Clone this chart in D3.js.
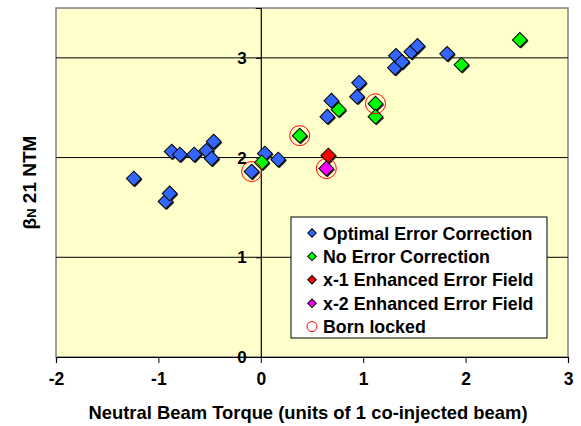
<!DOCTYPE html>
<html><head><meta charset="utf-8">
<script src="https://cdn.jsdelivr.net/npm/d3@7"></script>
<style>body{margin:0;background:#fff;} text{font-family:Arial,"Liberation Sans",sans-serif;font-weight:bold;}</style>
</head><body>
<svg id="c" width="581" height="426"></svg>
<script>
const optimalX = [-1.24,-0.93,-0.89,-0.87,-0.79,-0.65,-0.53,-0.48,-0.46,-0.09,0.04,0.17,0.65,0.69,0.94,0.96,1.31,1.32,1.38,1.47,1.53,1.82];
const optimalY = [1.79,1.56,1.64,2.06,2.03,2.03,2.07,1.99,2.16,1.86,2.04,1.98,2.41,2.57,2.61,2.75,2.90,3.02,2.96,3.06,3.12,3.04];
const noCorrX = [0.01,0.38,0.76,1.12,1.12,1.96,2.53];
const noCorrY = [1.95,2.22,2.48,2.54,2.41,2.93,3.18];
const x1X = [0.66];
const x1Y = [2.02];
const x2X = [0.64];
const x2Y = [1.89];
const bornX = [-0.09,0.38,0.64,1.12];
const bornY = [1.86,2.22,1.89,2.54];
const xTicks = [-2,-1,0,1,2,3];
const yTicks = [0,1,2,3];
const seriesNames = ["Optimal Error Correction","No Error Correction","x-1 Enhanced Error Field","x-2 Enhanced Error Field","Born locked"];
const seriesColors = ["#3366FF","#00FF00","#FF0000","#FF00FF","#FF0000"];

const svg = d3.select("#c");
const L=56, R=568, T=8, B=357;
const x = d3.scaleLinear().domain([-2,3]).range([L,R]);
const y = d3.scaleLinear().domain([0,3.5]).range([B,T]);

svg.append("rect").attr("x",L).attr("y",T).attr("width",R-L).attr("height",B-T)
  .attr("fill","#FFFFCC").attr("stroke","#808080").attr("stroke-width",1.5);

svg.append("g").selectAll("line").data(yTicks.filter(d=>d>0)).join("line")
  .attr("x1",L).attr("x2",R).attr("y1",d=>y(d)).attr("y2",d=>y(d))
  .attr("stroke","#000").attr("stroke-width",1);

const xa = svg.append("g").attr("transform",`translate(0,${B})`)
  .call(d3.axisBottom(x).tickValues(xTicks).tickSize(6).tickPadding(10).tickFormat(d=>String(d)));
xa.select(".domain").attr("stroke","#000").attr("stroke-width",1.2);
xa.selectAll(".tick line").attr("stroke","#000");
xa.selectAll("text").attr("font-size",17.5).attr("font-family","Arial, Liberation Sans").attr("font-weight","bold").attr("fill","#000");

const ya = svg.append("g").attr("transform",`translate(${x(0)},0)`)
  .call(d3.axisLeft(y).tickValues(yTicks).tickSize(5).tickPadding(9).tickFormat(d=>String(d)));
ya.select(".domain").attr("stroke","#000").attr("stroke-width",1.2);
ya.selectAll(".tick line").attr("stroke","#000");
ya.selectAll("text").attr("font-size",17).attr("font-family","Arial, Liberation Sans").attr("font-weight","bold").attr("fill","#000");

const diamond = d3.symbol().type(d3.symbolSquare).size(110);
function drawSeries(xs,ys,color){
  const g = svg.append("g");
  const pts = xs.map((v,i)=>[v,ys[i]]);
  g.selectAll("path.sh").data(pts).join("path").attr("class","sh")
    .attr("d",diamond).attr("transform",d=>`translate(${x(d[0])+1.2},${y(d[1])+1.2}) rotate(45)`)
    .attr("fill","#222");
  g.selectAll("path.m").data(pts).join("path").attr("class","m")
    .attr("d",diamond).attr("transform",d=>`translate(${x(d[0])},${y(d[1])}) rotate(45)`)
    .attr("fill",color).attr("stroke","#000").attr("stroke-width",1);
}
drawSeries(optimalX,optimalY,seriesColors[0]);
drawSeries(noCorrX,noCorrY,seriesColors[1]);
drawSeries(x1X,x1Y,seriesColors[2]);
drawSeries(x2X,x2Y,seriesColors[3]);
svg.append("g").selectAll("circle").data(bornX.map((v,i)=>[v,bornY[i]])).join("circle")
  .attr("cx",d=>x(d[0])).attr("cy",d=>y(d[1])).attr("r",10)
  .attr("fill","none").attr("stroke",seriesColors[4]).attr("stroke-width",1);

const lg = svg.append("g");
lg.append("rect").attr("x",291).attr("y",217).attr("width",256).attr("height",121)
  .attr("fill","#fff").attr("stroke","#000").attr("stroke-width",1);
const smallD = d3.symbol().type(d3.symbolSquare).size(36);
seriesNames.forEach((n,i)=>{
  const cy = 233 + i*23.4;
  if(i<4){
    lg.append("path").attr("d",smallD).attr("transform",`translate(312,${cy}) rotate(45)`)
      .attr("fill",seriesColors[i]).attr("stroke","#000").attr("stroke-width",1);
  } else {
    lg.append("circle").attr("cx",312).attr("cy",cy).attr("r",5).attr("fill","none").attr("stroke",seriesColors[i]).attr("stroke-width",1);
  }
  lg.append("text").attr("x",323).attr("y",cy+6.5).attr("font-size",17.8).text(n);
});

svg.append("text").attr("x",(L+R)/2 - 4).attr("y",419).attr("text-anchor","middle").attr("font-size",18.4)
  .text("Neutral Beam Torque (units of 1 co-injected beam)");
const yt = svg.append("text").attr("transform",`translate(36,${(T+B)/2}) rotate(-90)`).attr("text-anchor","middle").attr("font-size",19);
yt.append("tspan").text("β");
yt.append("tspan").attr("font-size",13).text("N");
yt.append("tspan").text(" 21 NTM");
</script>
</body></html>
